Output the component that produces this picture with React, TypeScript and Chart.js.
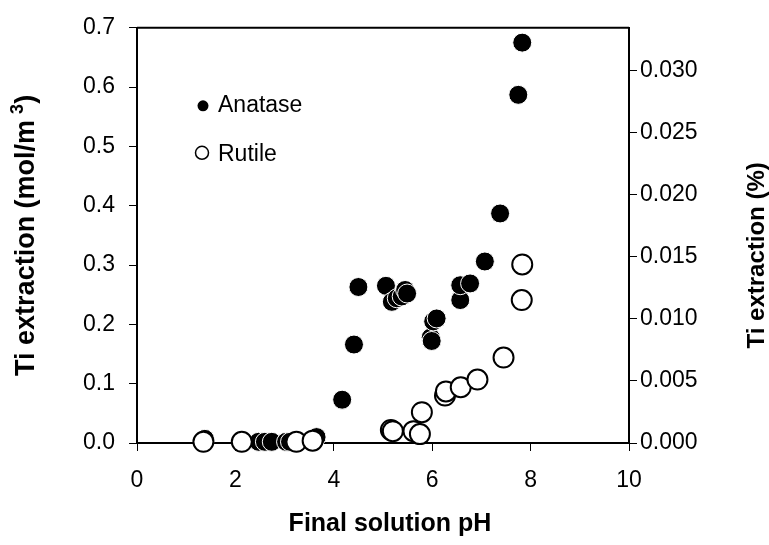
import React, { useEffect, useRef } from "react";
import { Chart, registerables } from "chart.js";

Chart.register(...registerables);

// Final solution pH and Ti extraction (mol/m3) for anatase
const anataseX = [1.38, 2.47, 2.6, 2.74, 3.03, 3.11, 3.65, 4.17, 4.41, 4.5, 5.06, 5.18, 5.28, 5.38, 5.45, 5.49, 5.97, 5.99, 6.02, 6.09, 6.57, 6.57, 6.77, 7.07, 7.38, 7.75, 7.83];
const anataseY = [0.007, 0.002, 0.002, 0.002, 0.002, 0.002, 0.01, 0.073, 0.166, 0.263, 0.265, 0.238, 0.244, 0.247, 0.258, 0.252, 0.178, 0.172, 0.205, 0.21, 0.241, 0.266, 0.269, 0.306, 0.387, 0.587, 0.675];

// Final solution pH and Ti extraction (mol/m3) for rutile
const rutileX = [1.35, 2.13, 3.24, 3.57, 5.16, 5.2, 5.62, 5.75, 5.79, 6.26, 6.28, 6.58, 6.92, 7.45, 7.82, 7.83];
const rutileY = [0.002, 0.002, 0.002, 0.004, 0.022, 0.02, 0.02, 0.015, 0.052, 0.08, 0.087, 0.094, 0.107, 0.144, 0.241, 0.301];

const xTicks = [0, 2, 4, 6, 8, 10];
const leftTicks = [0, 0.1, 0.2, 0.3, 0.4, 0.5, 0.6, 0.7];
const rightTicks = [0, 0.005, 0.01, 0.015, 0.02, 0.025, 0.03];
const leftMax = 0.7;
const rightMax = 0.03344;

const FONT = "'Liberation Sans', Arial, sans-serif";

const toPoints = (xs: number[], ys: number[]) => xs.map((x, i) => ({ x, y: ys[i] }));

const decorations = {
  id: "decorations",
  afterDraw(chart: any) {
    const { ctx, chartArea } = chart;
    const { left, right, top, bottom } = chartArea;
    ctx.save();

    // top frame line
    ctx.strokeStyle = "#000";
    ctx.lineWidth = 2;
    ctx.beginPath();
    ctx.moveTo(left, top);
    ctx.lineTo(right, top);
    ctx.stroke();

    // legend
    const lx = left + 66;
    const tx = left + 81;
    const y1 = top + 76;
    const y2 = top + 125;
    ctx.fillStyle = "#000";
    ctx.beginPath();
    ctx.arc(lx, y1 + 2, 5.5, 0, Math.PI * 2);
    ctx.fill();
    ctx.beginPath();
    ctx.arc(lx - 1, y2, 6.5, 0, Math.PI * 2);
    ctx.fillStyle = "#fff";
    ctx.fill();
    ctx.lineWidth = 1.5;
    ctx.strokeStyle = "#000";
    ctx.stroke();
    ctx.fillStyle = "#000";
    ctx.font = `23px ${FONT}`;
    ctx.textAlign = "left";
    ctx.textBaseline = "alphabetic";
    ctx.fillText("Anatase", tx, y1 + 8.2);
    ctx.fillText("Rutile", tx, y2 + 8.2);

    // x axis title
    ctx.font = `bold 25px ${FONT}`;
    ctx.textAlign = "center";
    ctx.textBaseline = "middle";
    ctx.fillText("Final solution pH", (left + right) / 2 + 7, bottom + 81);

    // left axis title with superscript
    const main = "Ti extraction (mol/m";
    const sup = "3";
    const close = ")";
    ctx.save();
    ctx.translate(left - 110, (top + bottom) / 2);
    ctx.rotate(-Math.PI / 2);
    ctx.font = `bold 27px ${FONT}`;
    const wMain = ctx.measureText(main).width;
    const wClose = ctx.measureText(close).width;
    ctx.font = `bold 18px ${FONT}`;
    const wSup = ctx.measureText(sup).width;
    const gap = 6;
    const total = wMain + gap + wSup + wClose;
    let cx = -total / 2;
    ctx.textAlign = "left";
    ctx.textBaseline = "middle";
    ctx.font = `bold 27px ${FONT}`;
    ctx.fillText(main, cx, 0);
    cx += wMain + gap;
    ctx.font = `bold 18px ${FONT}`;
    ctx.fillText(sup, cx, -9);
    cx += wSup;
    ctx.font = `bold 27px ${FONT}`;
    ctx.fillText(close, cx, 0);
    ctx.restore();

    // right axis title
    ctx.save();
    ctx.translate(right + 128, (top + bottom) / 2 + 20);
    ctx.rotate(-Math.PI / 2);
    ctx.font = `bold 24px ${FONT}`;
    ctx.textAlign = "center";
    ctx.textBaseline = "middle";
    ctx.fillText("Ti extraction (%)", 0, 0);
    ctx.restore();

    ctx.restore();
  },
};

const tickGrid = {
  display: true,
  drawOnChartArea: false,
  drawTicks: true,
  tickLength: 8,
  color: "#000",
  lineWidth: 1,
};

export default function App() {
  const canvasRef = useRef<HTMLCanvasElement | null>(null);

  useEffect(() => {
    if (!canvasRef.current) return;
    const chart = new Chart(canvasRef.current, {
      type: "scatter",
      data: {
        datasets: [
          {
            label: "Rutile",
            data: toPoints(rutileX, rutileY),
            yAxisID: "y",
            order: 0,
            clip: false as any,
            pointRadius: 10,
            pointHoverRadius: 10,
            backgroundColor: "#fff",
            borderColor: "#000",
            borderWidth: 2,
          },
          {
            label: "Anatase",
            data: toPoints(anataseX, anataseY),
            yAxisID: "y",
            order: 1,
            clip: false as any,
            pointRadius: 9.5,
            pointHoverRadius: 9.5,
            backgroundColor: "#000",
            borderColor: "#fff",
            borderWidth: 1,
          },
        ],
      },
      options: {
        animation: false,
        responsive: false,
        devicePixelRatio: 1,
        layout: { padding: { top: 24, left: 0, right: 0, bottom: 0 } },
        plugins: {
          legend: { display: false },
          tooltip: { enabled: false },
        },
        scales: {
          x: {
            type: "linear",
            position: "bottom",
            min: 0,
            max: 10,
            afterBuildTicks: (s: any) => {
              s.ticks = xTicks.map((v) => ({ value: v }));
            },
            afterFit: (s: any) => {
              s.height = 102;
            },
            grid: tickGrid,
            border: { display: true, color: "#000", width: 2 },
            ticks: {
              color: "#000",
              font: { family: FONT, size: 23 },
              padding: 16,
              maxRotation: 0,
              callback: (v: any) => String(v),
            },
          },
          y: {
            type: "linear",
            position: "left",
            min: 0,
            max: leftMax,
            afterBuildTicks: (s: any) => {
              s.ticks = leftTicks.map((v) => ({ value: v }));
            },
            afterFit: (s: any) => {
              s.width = 137;
            },
            grid: tickGrid,
            border: { display: true, color: "#000", width: 2 },
            ticks: {
              color: "#000",
              font: { family: FONT, size: 23 },
              padding: 14,
              callback: (v: any) => Number(v).toFixed(1),
            },
          },
          y1: {
            type: "linear",
            position: "right",
            min: 0,
            max: rightMax,
            afterBuildTicks: (s: any) => {
              s.ticks = rightTicks.map((v) => ({ value: v }));
            },
            afterFit: (s: any) => {
              s.width = 140;
            },
            grid: tickGrid,
            border: { display: true, color: "#000", width: 2 },
            ticks: {
              color: "#000",
              font: { family: FONT, size: 23 },
              padding: 3,
              callback: (v: any) => Number(v).toFixed(3),
            },
          },
        },
      },
      plugins: [decorations],
    });
    return () => chart.destroy();
  }, []);

  return (
    <div style={{ position: "fixed", left: 0, top: 0, width: 769, height: 545, background: "#fff" }}>
      <canvas ref={canvasRef} width={769} height={545} />
    </div>
  );
}
